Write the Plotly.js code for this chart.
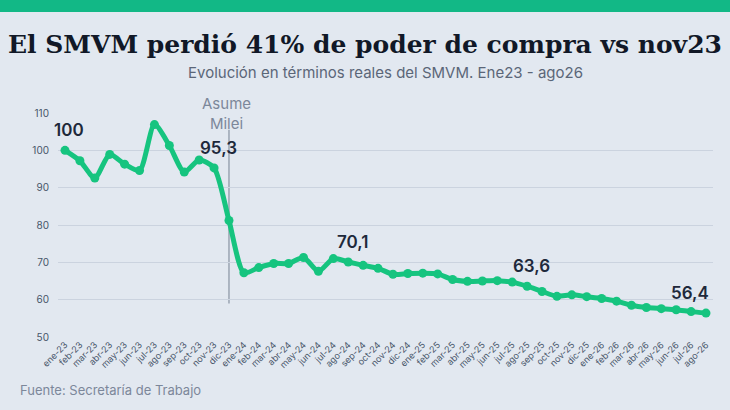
<!DOCTYPE html>
<html>
<head>
<meta charset="utf-8">
<script src="https://cdn.plot.ly/plotly-3.0.1.min.js"></script>
<style>
  html, body { margin: 0; padding: 0; background: #e2e8f0; }
  #chart { width: 730px; height: 410px; }
</style>
</head>
<body>
<div id="chart"></div>
<script>
// meses ene-23 .. ago-26
var meses = ['ene-23','feb-23','mar-23','abr-23','may-23','jun-23','jul-23','ago-23','sep-23','oct-23','nov-23','dic-23',
             'ene-24','feb-24','mar-24','abr-24','may-24','jun-24','jul-24','ago-24','sep-24','oct-24','nov-24','dic-24',
             'ene-25','feb-25','mar-25','abr-25','may-25','jun-25','jul-25','ago-25','sep-25','oct-25','nov-25','dic-25',
             'ene-26','feb-26','mar-26','abr-26','may-26','jun-26','jul-26','ago-26'];

// SMVM real, base ene-23 = 100
var smvm = [100, 97.2, 92.6, 98.9, 96.3, 94.6, 106.9, 101.3, 94.2, 97.4, 95.3, 81.2,
            67.2, 68.6, 69.7, 69.7, 71.3, 67.6, 71.0, 70.1, 69.2, 68.4, 66.8, 67.0,
            67.1, 66.9, 65.4, 64.9, 65.0, 65.1, 64.7, 63.6, 62.2, 60.9, 61.3, 60.8,
            60.3, 59.6, 58.5, 57.9, 57.6, 57.3, 56.8, 56.4];

// valores destacados
var destacados = ['ene-23', 'nov-23', 'ago-24', 'ago-25', 'ago-26'];
var mesAsume = 'dic-23';

var idx = meses.map(function (m, i) { return i; });

var trace = {
    x: idx,
    y: smvm,
    type: 'scatter',
    mode: 'lines+markers',
    line: {color: '#16c47f', width: 5, shape: 'spline', smoothing: 0.7},
    marker: {color: '#16c47f', size: 9},
    hoverinfo: 'y'
};

var annotations = destacados.map(function (m, k) {
    var i = meses.indexOf(m);
    return {
        x: i, y: smvm[i], xref: 'x', yref: 'y',
        text: smvm[i].toString().replace('.', ','),
        showarrow: false, yshift: 20,
        xshift: k === destacados.length - 1 ? -16 : 4,
        font: {family: 'Inter', size: 17, color: '#1e293b', weight: 600}
    };
});

annotations.push({
    x: meses.indexOf(mesAsume), y: 105.5, xref: 'x', yref: 'y',
    text: 'Asume<br>Milei', showarrow: false, yanchor: 'bottom', yshift: -5, xshift: -2,
    font: {family: 'Inter', size: 15, color: '#7c879a'}
});

annotations.push({
    x: 0.5, y: 1.183, xref: 'paper', yref: 'paper', xanchor: 'center', yanchor: 'middle',
    text: 'Evolución en términos reales del SMVM. Ene23 - ago26', showarrow: false,
    font: {family: 'Inter', size: 15, color: '#5b6678'}
});

annotations.push({
    x: -40 / 655, y: -0.235, xref: 'paper', yref: 'paper', xanchor: 'left', yanchor: 'middle',
    text: 'Fuente: Secretaría de Trabajo', showarrow: false,
    font: {family: 'Inter', size: 13, color: '#7c879a'}
});

var layout = {
    width: 730,
    height: 410,
    paper_bgcolor: '#e2e8f0',
    plot_bgcolor: '#e2e8f0',
    showlegend: false,
    margin: {l: 58, r: 17, t: 113, b: 73, pad: 0},
    title: {
        text: '<b>El SMVM perdió 41% de poder de compra vs nov23</b>',
        x: 0.5, xanchor: 'center', y: 0.893, yref: 'container', yanchor: 'middle',
        font: {family: 'DejaVu Serif', size: 25, color: '#111827'}
    },
    xaxis: {
        range: [-0.47, 43.47],
        tickmode: 'array',
        tickvals: idx,
        ticktext: meses,
        tickangle: -45,
        tickfont: {family: 'Inter', size: 9, color: '#475569'},
        showgrid: false,
        zeroline: false,
        showline: false,
        ticks: ''
    },
    yaxis: {
        range: [50, 110],
        tickvals: [50, 60, 70, 80, 90, 100, 110],
        tickfont: {family: 'Inter', size: 10, color: '#475569'},
        gridcolor: '#cbd3df',
        gridwidth: 1,
        zeroline: false,
        showline: false,
        ticklabelstandoff: 8
    },
    shapes: [
        {
            type: 'rect', xref: 'paper', yref: 'paper',
            x0: -58 / 655, x1: 672 / 655, y0: 325 / 224, y1: 340 / 224,
            fillcolor: '#12b886', line: {width: 0}, layer: 'above'
        },
        {
            type: 'line', xref: 'x', yref: 'y',
            x0: meses.indexOf(mesAsume), x1: meses.indexOf(mesAsume), y0: 59, y1: 105.5,
            line: {color: '#8e98a8', width: 1.3}, layer: 'below'
        }
    ],
    annotations: annotations
};

Plotly.newPlot('chart', [trace], layout, {displayModeBar: false, staticPlot: true});
</script>
</body>
</html>
